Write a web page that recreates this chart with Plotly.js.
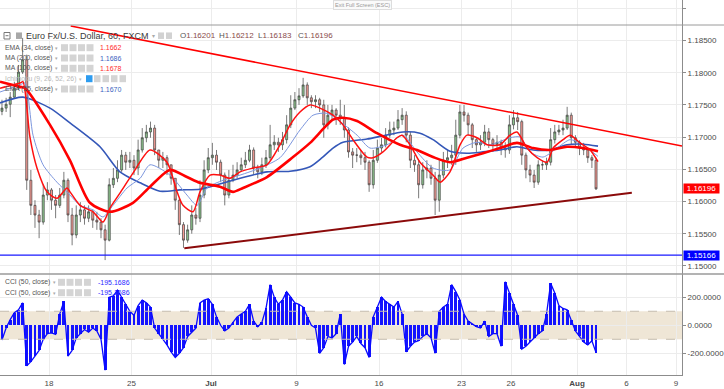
<!DOCTYPE html>
<html><head><meta charset="utf-8">
<script src="https://cdn.plot.ly/plotly-3.0.1.min.js"></script>
<style>html,body{margin:0;padding:0;background:#fff;overflow:hidden}#chart{width:724px;height:389px}</style>
</head><body><div id="chart"></div>
<script>
// ---------- DATA (x in trading days, 0 = Mon 18 Jun 2018; 6-hour bars) ----------
const barStartDay = -2.85;
const barStepDays = 0.25;
const openP = [1.1740,
1.1745,1.1751,1.1762,1.1776,1.1801,1.1820,1.1633,1.1594,1.1579,1.1568,
1.1610,1.1618,1.1602,1.1594,1.1610,1.1633,1.1579,1.1548,1.1579,1.1587,
1.1574,1.1584,1.1571,1.1568,1.1556,1.1540,1.1626,1.1636,1.1649,1.1672,
1.1661,1.1664,1.1652,1.1680,1.1699,1.1708,1.1714,1.1680,1.1664,1.1668,
1.1657,1.1636,1.1602,1.1564,1.1540,1.1556,1.1579,1.1574,1.1610,1.1649,
1.1668,1.1672,1.1661,1.1641,1.1610,1.1633,1.1641,1.1649,1.1657,1.1664,
1.1680,1.1652,1.1646,1.1657,1.1668,1.1688,1.1692,1.1688,1.1696,1.1719,
1.1745,1.1758,1.1764,1.1781,1.1761,1.1755,1.1758,1.1750,1.1719,1.1734,
1.1742,1.1734,1.1730,1.1711,1.1677,1.1672,1.1672,1.1668,1.1661,1.1626,
1.1664,1.1683,1.1688,1.1703,1.1711,1.1714,1.1727,1.1734,1.1703,1.1664,
1.1657,1.1626,1.1649,1.1652,1.1636,1.1602,1.1641,1.1664,1.1668,1.1672,
1.1703,1.1739,1.1734,1.1719,1.1696,1.1688,1.1692,1.1708,1.1696,1.1688,
1.1692,1.1683,1.1680,1.1719,1.1730,1.1724,1.1672,1.1649,1.1641,1.1630,
1.1657,1.1657,1.1661,1.1696,1.1708,1.1711,1.1714,1.1734,1.1699,1.1692,
1.1683,1.1680,1.1668,1.1664];
const highP = [
1.1758,1.1761,1.1770,1.1786,1.1812,1.1854,1.1828,1.1649,1.1602,1.1587,
1.1626,1.1630,1.1621,1.1610,1.1621,1.1646,1.1636,1.1590,1.1594,1.1599,
1.1594,1.1594,1.1587,1.1584,1.1574,1.1564,1.1636,1.1652,1.1664,1.1680,
1.1677,1.1677,1.1672,1.1696,1.1714,1.1719,1.1724,1.1719,1.1680,1.1677,
1.1672,1.1657,1.1636,1.1605,1.1568,1.1564,1.1594,1.1590,1.1633,1.1664,
1.1683,1.1691,1.1680,1.1665,1.1645,1.1649,1.1657,1.1661,1.1668,1.1677,
1.1688,1.1684,1.1657,1.1668,1.1680,1.1719,1.1703,1.1699,1.1708,1.1734,
1.1765,1.1770,1.1776,1.1792,1.1785,1.1765,1.1765,1.1761,1.1758,1.1750,
1.1750,1.1745,1.1758,1.1750,1.1715,1.1683,1.1683,1.1680,1.1677,1.1664,
1.1680,1.1696,1.1699,1.1714,1.1724,1.1724,1.1742,1.1745,1.1740,1.1708,
1.1672,1.1664,1.1661,1.1664,1.1657,1.1646,1.1664,1.1677,1.1680,1.1688,
1.1727,1.1750,1.1750,1.1738,1.1722,1.1699,1.1703,1.1719,1.1714,1.1699,
1.1703,1.1696,1.1692,1.1734,1.1742,1.1739,1.1727,1.1676,1.1657,1.1649,
1.1664,1.1664,1.1668,1.1714,1.1719,1.1719,1.1727,1.1747,1.1738,1.1703,
1.1695,1.1691,1.1683,1.1672,1.1668];
const lowP = [
1.1734,1.1739,1.1731,1.1761,1.1773,1.1798,1.1618,1.1579,1.1559,1.1543,
1.1564,1.1602,1.1587,1.1574,1.1590,1.1605,1.1568,1.1532,1.1543,1.1568,
1.1564,1.1568,1.1559,1.1556,1.1543,1.1509,1.1538,1.1621,1.1630,1.1646,
1.1649,1.1652,1.1641,1.1641,1.1676,1.1692,1.1699,1.1672,1.1652,1.1652,
1.1641,1.1626,1.1587,1.1548,1.1528,1.1536,1.1550,1.1564,1.1568,1.1605,
1.1644,1.1657,1.1649,1.1630,1.1594,1.1605,1.1630,1.1636,1.1646,1.1652,
1.1661,1.1641,1.1636,1.1641,1.1652,1.1664,1.1680,1.1677,1.1680,1.1690,
1.1714,1.1742,1.1750,1.1761,1.1750,1.1745,1.1745,1.1739,1.1699,1.1712,
1.1727,1.1719,1.1719,1.1699,1.1668,1.1652,1.1661,1.1657,1.1649,1.1615,
1.1620,1.1660,1.1677,1.1684,1.1699,1.1703,1.1711,1.1719,1.1692,1.1652,
1.1646,1.1605,1.1620,1.1636,1.1626,1.1579,1.1584,1.1636,1.1652,1.1657,
1.1657,1.1698,1.1724,1.1703,1.1683,1.1677,1.1680,1.1686,1.1683,1.1677,
1.1680,1.1672,1.1668,1.1674,1.1712,1.1711,1.1657,1.1636,1.1630,1.1621,
1.1626,1.1649,1.1649,1.1656,1.1690,1.1703,1.1703,1.1711,1.1688,1.1683,
1.1672,1.1672,1.1660,1.1652,1.1618];
const closeP = [
1.1745,1.1751,1.1762,1.1776,1.1801,1.1820,1.1633,1.1594,1.1579,1.1568,
1.1610,1.1618,1.1602,1.1594,1.1610,1.1633,1.1579,1.1548,1.1579,1.1587,
1.1574,1.1584,1.1571,1.1568,1.1556,1.1540,1.1626,1.1636,1.1649,1.1672,
1.1661,1.1664,1.1652,1.1680,1.1699,1.1708,1.1714,1.1680,1.1664,1.1668,
1.1657,1.1636,1.1602,1.1564,1.1540,1.1556,1.1579,1.1574,1.1610,1.1649,
1.1668,1.1672,1.1661,1.1641,1.1610,1.1633,1.1641,1.1649,1.1657,1.1664,
1.1680,1.1652,1.1646,1.1657,1.1668,1.1688,1.1692,1.1688,1.1696,1.1719,
1.1745,1.1758,1.1764,1.1781,1.1761,1.1755,1.1758,1.1750,1.1719,1.1734,
1.1742,1.1734,1.1730,1.1711,1.1677,1.1672,1.1672,1.1668,1.1661,1.1626,
1.1664,1.1683,1.1688,1.1703,1.1711,1.1714,1.1727,1.1734,1.1703,1.1664,
1.1657,1.1626,1.1649,1.1652,1.1636,1.1602,1.1641,1.1664,1.1668,1.1672,
1.1703,1.1739,1.1734,1.1719,1.1696,1.1688,1.1692,1.1708,1.1696,1.1688,
1.1692,1.1683,1.1680,1.1719,1.1730,1.1724,1.1672,1.1649,1.1641,1.1630,
1.1657,1.1657,1.1661,1.1696,1.1708,1.1711,1.1714,1.1734,1.1699,1.1692,
1.1683,1.1680,1.1668,1.1664,1.16196];
const cciValues = [
-105,-20,40,90,110,160,-290,-260,-220,-180,
-100,-60,-55,-65,80,170,-220,-180,-90,-60,
-30,-50,-20,-40,-100,-320,200,210,250,200,
150,100,70,140,180,160,130,-20,-60,-100,
-140,-190,-230,-200,-160,-80,-50,-20,160,180,
190,150,60,0,-40,-20,20,60,80,100,
150,30,-10,20,120,290,200,150,180,240,
200,160,150,130,60,0,-20,-200,-160,-80,
-90,-60,80,-280,-150,-120,-80,-130,-160,-230,
60,130,200,170,150,130,170,80,-190,-150,
-120,-110,-80,-60,-90,-200,100,130,150,290,
240,180,80,30,10,-10,-20,30,-80,-60,
-60,-150,310,230,150,70,-170,-150,-120,-90,
-60,-40,80,300,230,140,120,110,40,-40,
-80,-120,-140,-110,-195];

const ema34Days = [-2.97,-1.76,-1.58,-1.15,-0.73,-0.12,0.48,1.09,1.27,1.88,2.67,3.27,3.70,4.30,5.09,6.12,7.15,7.76,8.12,8.73,9.15,9.76,10.36,10.97,11.58,12.36,13.21,14.00,14.61,15.21,15.82,16.42,17.21,17.82,18.42,19.27,19.64,20.24,21.09,21.39,21.88,22.48,23.27,23.70,24.30,24.91,25.33,25.94,26.55,27.33,27.94,28.36,28.97,29.58,30.18,30.55,31.15,31.58,32.18,32.79,33.27];
const ema34 = [1.1776,1.1784,1.1786,1.1699,1.1652,1.1615,1.1605,1.1621,1.1615,1.1594,1.1584,1.1568,1.1590,1.1613,1.1644,1.1680,1.1661,1.1615,1.1594,1.1584,1.1615,1.1641,1.1641,1.1636,1.1646,1.1652,1.1657,1.1688,1.1719,1.1739,1.1750,1.1745,1.1734,1.1719,1.1696,1.1669,1.1668,1.1677,1.1699,1.1703,1.1688,1.1661,1.1641,1.1630,1.1646,1.1688,1.1703,1.1699,1.1688,1.1688,1.1703,1.1708,1.1683,1.1668,1.1661,1.1683,1.1696,1.1703,1.1691,1.1680,1.1662];

const ema55Days = [-2.97,-1.76,-1.45,-0.97,-0.36,0.48,1.27,1.88,2.67,3.27,3.88,4.73,5.52,6.12,7.33,8.36,8.97,9.58,10.55,11.58,12.79,14.00,15.21,16.00,16.85,17.64,18.67,19.45,20.48,21.45,22.30,23.27,24.30,25.09,25.94,26.73,27.94,28.55,29.15,29.94,30.79,31.58,32.36,33.27];
const ema55 = [1.1770,1.1781,1.1784,1.1703,1.1657,1.1630,1.1610,1.1594,1.1587,1.1576,1.1594,1.1621,1.1636,1.1657,1.1641,1.1610,1.1594,1.1621,1.1633,1.1641,1.1652,1.1668,1.1711,1.1734,1.1737,1.1724,1.1703,1.1683,1.1688,1.1703,1.1677,1.1652,1.1649,1.1683,1.1692,1.1688,1.1699,1.1700,1.1677,1.1669,1.1683,1.1696,1.1688,1.1670];

const ma100Days = [-2.97,-1.76,-1.45,0.06,1.27,2.48,3.70,5.09,6.12,7.33,8.36,9.15,10.36,11.15,11.76,13.21,14.79,15.82,17.21,17.82,18.67,19.88,21.27,22.30,23.27,24.30,25.33,26.30,27.33,28.36,29.33,30.36,31.39,32.36,33.27];
const ma100 = [1.1786,1.1778,1.1776,1.1719,1.1664,1.1598,1.1584,1.1598,1.1623,1.1649,1.1638,1.1629,1.1623,1.1615,1.1621,1.1638,1.1669,1.1691,1.1727,1.1730,1.1725,1.1706,1.1688,1.1680,1.1669,1.1661,1.1668,1.1675,1.1683,1.1691,1.1683,1.1680,1.1685,1.1683,1.1678];

const ma200Days = [-2.97,-1.58,0.06,1.27,3.09,4.30,5.52,6.73,7.94,9.15,10.18,11.15,12.18,13.21,14.61,15.82,16.55,17.21,17.82,19.27,20.24,21.45,22.48,23.27,24.30,25.33,26.30,27.33,28.36,29.33,30.36,31.39,32.36,33.27];
const ma200 = [1.1753,1.1762,1.1745,1.1722,1.1685,1.1646,1.1629,1.1616,1.1618,1.1619,1.1626,1.1633,1.1640,1.1646,1.1647,1.1654,1.1668,1.1683,1.1692,1.1697,1.1702,1.1708,1.1706,1.1696,1.1678,1.1675,1.1677,1.1680,1.1685,1.1680,1.1680,1.1688,1.1689,1.1686];

const upperTrendDays = [1.315, 38.36];
const upperTrendPrices = [1.18725, 1.16862];
const lowerTrendDays = [8.2, 35.32];
const lowerTrendPrices = [1.15273, 1.16136];
const supportLevel = 1.15166;
const lastClose = 1.16196;

const xTickDays = [0, 5, 9.82, 15, 20, 25, 28, 32, 35, 38];
const xTickLabels = ['18', '25', '<b>Jul</b>', '9', '16', '23', '26', '<b>Aug</b>', '6', '9'];
const priceTicks = [1.15, 1.155, 1.16, 1.165, 1.17, 1.175, 1.18, 1.185, 1.19];
const priceTickLabels = ['1.15000','1.15500','1.16000','1.16500','1.17000','1.17500','1.18000','1.18500',''];
const cciTicks = [-200, 0, 200];
const cciTickLabels = ['-200.0000', '0.0000', '200.0000'];

// ---------- BUILD ----------
const barDays = closeP.map((_, i) => barStartDay + i * barStepDays);
const XR = [-2.97, 38.36];
const W = 682, H = 375;
const PX = x => x / W;
const PY = y => 1 - y / H;
const splitY = PY(274);
const FONT = 'Arial, Liberation Sans, sans-serif';

const traces = [
  {type:'candlestick', x:barDays, open:openP, high:highP, low:lowP, close:closeP,
   xaxis:'x', yaxis:'y', whiskerwidth:0,
   increasing:{line:{color:'#404040', width:0.7}, fillcolor:'#8cc48c'},
   decreasing:{line:{color:'#404040', width:0.7}, fillcolor:'#f59a93'},
   hoverinfo:'skip'},
  {type:'scatter', mode:'lines', x:ma200Days, y:ma200, line:{color:'#3457b8', width:1.6, shape:'spline', smoothing:0.7}, xaxis:'x', yaxis:'y'},
  {type:'scatter', mode:'lines', x:ema55Days, y:ema55, line:{color:'#7d97de', width:1, shape:'spline', smoothing:0.7}, xaxis:'x', yaxis:'y'},
  {type:'scatter', mode:'lines', x:ma100Days, y:ma100, line:{color:'#ff0000', width:2.6, shape:'spline', smoothing:0.7}, xaxis:'x', yaxis:'y'},
  {type:'scatter', mode:'lines', x:ema34Days, y:ema34, line:{color:'#ff1010', width:1.5, shape:'spline', smoothing:0.7}, xaxis:'x', yaxis:'y'},
  {type:'scatter', mode:'lines', x:upperTrendDays, y:upperTrendPrices, line:{color:'#ff0000', width:1.5}, xaxis:'x', yaxis:'y'},
  {type:'scatter', mode:'lines', x:lowerTrendDays, y:lowerTrendPrices, line:{color:'#8b0a0a', width:2}, xaxis:'x', yaxis:'y'},
  {type:'scatter', mode:'lines', x:XR, y:[supportLevel, supportLevel], line:{color:'#1a1aff', width:1.3}, xaxis:'x', yaxis:'y'},
  {type:'bar', x:barDays, y:cciValues, width:0.17, marker:{color:'#1414ff', line:{width:0}}, xaxis:'x2', yaxis:'y2'},
  {type:'scatter', mode:'lines', x:barDays, y:cciValues, line:{color:'#0a0aff', width:1.3}, xaxis:'x2', yaxis:'y2'}
];

const shapes = [
  {type:'rect', xref:'paper', yref:'y2', x0:0, x1:1, y0:-100, y1:100, fillcolor:'rgba(220,200,165,0.45)', line:{width:0}, layer:'below'},
  {type:'line', xref:'paper', yref:'y2', x0:0, x1:1, y0:100, y1:100, line:{color:'#c5bcae', width:1, dash:'dash'}},
  {type:'line', xref:'paper', yref:'y2', x0:0, x1:1, y0:-100, y1:-100, line:{color:'#c5bcae', width:1, dash:'dash'}},
  {type:'line', xref:'paper', yref:'paper', x0:0, x1:724/W, y0:splitY, y1:splitY, line:{color:'#9a9a9a', width:1.5}},
  {type:'line', xref:'paper', yref:'paper', x0:0, x1:724/W, y0:PY(25), y1:PY(25), line:{color:'#9a9a9a', width:1}},
];
const annotations = [];
function txt(x, y, text, size, color, extra) {
  annotations.push(Object.assign({xref:'paper', yref:'paper', x:PX(x), y:PY(y), text:text,
    showarrow:false, xanchor:'left', yanchor:'middle', font:{family:FONT, size:size, color:color}, borderpad:0}, extra||{}));
}
function icon(x, y, w, h, color) {
  shapes.push({type:'rect', xref:'paper', yref:'paper', x0:PX(x), x1:PX(x+w), y0:PY(y+h/2), y1:PY(y-h/2),
    fillcolor:color, line:{width:0}});
}
// row 1
shapes.push({type:'rect', xref:'paper', yref:'paper', x0:PX(4), x1:PX(10), y0:PY(39), y1:PY(32.5), line:{color:'#777', width:1}, fillcolor:'rgba(0,0,0,0)'});
shapes.push({type:'line', xref:'paper', yref:'paper', x0:PX(5.5), x1:PX(8.5), y0:PY(35.7), y1:PY(35.7), line:{color:'#777', width:1}});
icon(16, 35.7, 6, 6.5, '#a8a8a8');
txt(24.5, 35.7, 'Euro Fx/U.S. Dollar, 60, FXCM', 9, '#3a3a3a');
txt(151, 36, '▾', 5.5, '#aaa');
icon(158, 35.7, 6, 6.5, '#d2d2d2');
icon(166, 35.7, 6, 6.5, '#d2d2d2');
txt(179, 35.7, 'O<span style="color:#8a4b4b">1.16201</span>', 8, '#555');
txt(218, 35.7, 'H<span style="color:#8a4b4b">1.16212</span>', 8, '#555');
txt(257, 35.7, 'L<span style="color:#8a4b4b">1.16183</span>', 8, '#555');
txt(297, 35.7, 'C<span style="color:#8a4b4b">1.16196</span>', 8, '#555');
// indicator rows
const rows = [
  {y:47.7, label:'EMA (34, close)', val:'1.1662', vc:'#ff2a2a'},
  {y:58, label:'MA (200, close)', val:'1.1686', vc:'#3c5fc0'},
  {y:68.3, label:'MA (100, close)', val:'1.1678', vc:'#ff2a2a'},
  {y:89, label:'EMA (55, close)', val:'1.1670', vc:'#3c5fc0'}
];
rows.forEach(r => {
  txt(4, r.y, r.label, 6.8, '#555');
  txt(54, r.y, '▾', 5, '#aaa');
  [61, 69.5, 78, 86.5].forEach(x => icon(x, r.y, 7, 7, '#d4d4d4'));
  txt(99, r.y, r.val, 7, r.vc);
});
txt(4, 78.7, 'Ichimoku (9, 26, 52, 26)', 6.8, '#b8b8b8');
txt(78, 78.7, '▾', 5, '#bbb');
icon(86, 78.7, 6.5, 7, '#2d9cf0');
[94, 102.5, 111, 119.5].forEach(x => icon(x, 78.7, 6.5, 7, '#d4d4d4'));
// CCI rows
[282.3, 292.7].forEach(y => {
  txt(4, y, 'CCI (50, close)', 6.8, '#555');
  txt(51.5, y, '▾', 5, '#aaa');
  [58, 66.5, 75, 84].forEach(x => icon(x, y, 7, 7, '#d4d4d4'));
  txt(97, y, '-195.1686', 7, '#2a2aff');
});
// price labels on the axis
annotations.push({xref:'paper', yref:'y', x:PX(682.5), y:lastClose, text:lastClose.toFixed(5), showarrow:false,
  xanchor:'left', yanchor:'middle', bgcolor:'#ff0000', font:{family:FONT, size:8, color:'#fff'}, width:35, height:9, borderpad:0});
annotations.push({xref:'paper', yref:'y', x:PX(682.5), y:supportLevel, text:supportLevel.toFixed(5), showarrow:false,
  xanchor:'left', yanchor:'middle', bgcolor:'#0000ff', font:{family:FONT, size:8, color:'#fff'}, width:35, height:9, borderpad:0});
// fullscreen hint
annotations.push({xref:'paper', yref:'paper', x:PX(362), y:PY(4.5), text:'Exit Full Screen (ESC)', showarrow:false,
  xanchor:'center', yanchor:'middle', font:{family:FONT, size:5.5, color:'#999'}, bordercolor:'#ddd', borderwidth:1, borderpad:1, bgcolor:'#fafafa'});

const gridC = '#ececec', axC = '#8c8c8c', tickFont = {family:FONT, size:8, color:'#4a4a4a'};
const layout = {
  width:724, height:389, margin:{l:0, r:42, t:0, b:14},
  paper_bgcolor:'#fff', plot_bgcolor:'#fff', showlegend:false, hovermode:false, dragmode:false,
  xaxis:{domain:[0,1], anchor:'y', range:XR, tickmode:'array', tickvals:xTickDays, showticklabels:false,
    showgrid:true, gridcolor:gridC, zeroline:false, showline:false, ticks:'', rangeslider:{visible:false}},
  yaxis:{domain:[splitY,1], anchor:'x', side:'right', range:[1.14874, 1.19129], tickmode:'array',
    tickvals:priceTicks, ticktext:priceTickLabels, showgrid:true, gridcolor:gridC, zeroline:false,
    showline:true, linecolor:axC, linewidth:1, ticks:'outside', ticklen:3, tickcolor:axC, tickfont:tickFont},
  xaxis2:{domain:[0,1], anchor:'y2', matches:'x', range:XR, tickmode:'array', tickvals:xTickDays, ticktext:xTickLabels,
    showgrid:true, gridcolor:gridC, zeroline:false, showline:true, linecolor:axC, linewidth:1, ticks:'', tickfont:tickFont},
  yaxis2:{domain:[0,splitY], anchor:'x2', side:'right', range:[-355, 366], tickmode:'array',
    tickvals:cciTicks, ticktext:cciTickLabels, showgrid:true, gridcolor:gridC, zeroline:false,
    showline:true, linecolor:axC, linewidth:1, ticks:'outside', ticklen:3, tickcolor:axC, tickfont:tickFont},
  bargap:0, shapes:shapes, annotations:annotations
};
Plotly.newPlot('chart', traces, layout, {staticPlot:true, displayModeBar:false});
</script>
</body></html>
